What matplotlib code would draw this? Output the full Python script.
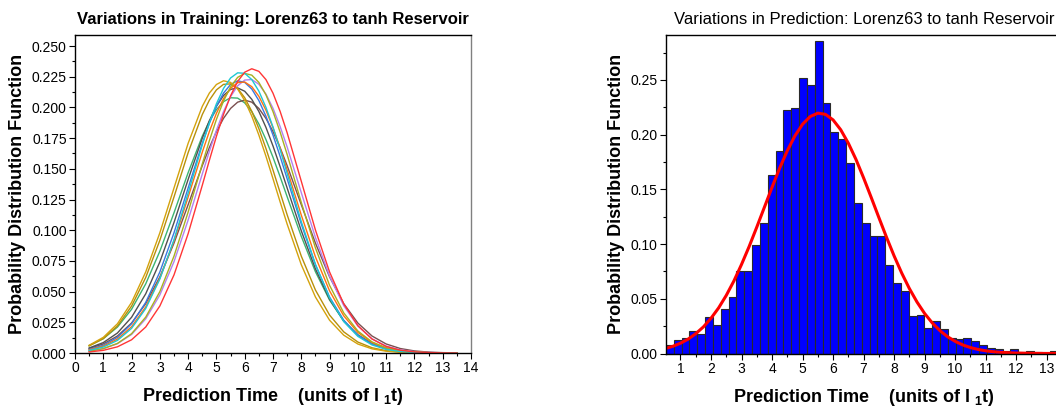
import numpy as np
import matplotlib
matplotlib.use("Agg")
import matplotlib.pyplot as plt
from matplotlib.ticker import MultipleLocator, FormatStrFormatter

plt.rcParams['font.family'] = ['Liberation Sans', 'DejaVu Sans']
plt.rcParams['mathtext.fontset'] = 'custom'
plt.rcParams['mathtext.rm'] = 'Liberation Sans'
plt.rcParams['mathtext.bf'] = 'Liberation Sans:bold'
plt.rcParams['mathtext.default'] = 'bf'

# training runs: pdf of prediction time (finer sampling around the peak)
train_t = [0.5, 1.0, 1.5, 2.0, 2.5, 3.0, 3.5, 4.0, 4.5,
           4.75, 5.0, 5.25, 5.5, 5.75, 6.0, 6.25, 6.5, 6.75, 7.0, 7.25, 7.5,
           8.0, 8.5, 9.0, 9.5, 10.0, 10.5, 11.0, 11.5, 12.0, 12.5, 13.0, 13.5]
train_green = [0.00602, 0.01166, 0.0211, 0.0356, 0.0563, 0.0829, 0.1142, 0.1469, 0.1766,
               0.1887, 0.1982, 0.2047, 0.2079, 0.2076, 0.2037, 0.1966, 0.1865, 0.1739,
               0.1594, 0.1437, 0.1273,
               0.0950, 0.0662, 0.0431, 0.0262, 0.01491, 0.00791, 0.00393, 0.00182,
               0.00079, 0.00032, 0.00012, 0.00004]
train_brown = [0.00365, 0.00735, 0.01384, 0.0244, 0.0402, 0.0620, 0.0895, 0.1208, 0.1526,
               0.1673, 0.1803, 0.1911, 0.1992, 0.2043, 0.2060, 0.2043, 0.1992, 0.1911,
               0.1803, 0.1673, 0.1526,
               0.1208, 0.0895, 0.0620, 0.0402, 0.0244, 0.01384, 0.00735, 0.00365,
               0.00170, 0.00074, 0.00030, 0.00011]
train_gray = [0.00411, 0.00847, 0.01628, 0.0291, 0.0482, 0.0742, 0.1063, 0.1414, 0.1749,
              0.1892, 0.2010, 0.2097, 0.2147, 0.2159, 0.2132, 0.2066, 0.1967, 0.1838,
              0.1686, 0.1519, 0.1344,
              0.0995, 0.0685, 0.0438, 0.0260, 0.01437, 0.00737, 0.00352, 0.00156,
              0.00064, 0.00025, 0.00009, 0.00003]
train_lavender = [0.00152, 0.00353, 0.00759, 0.01510, 0.0278, 0.0473, 0.0744, 0.1083, 0.1458,
                  0.1642, 0.1814, 0.1966, 0.2088, 0.2176, 0.2223, 0.2227, 0.2189, 0.2109,
                  0.1993, 0.1846, 0.1678,
                  0.1306, 0.0941, 0.0626, 0.0386, 0.02198, 0.01158, 0.00564, 0.00254,
                  0.00106, 0.00041, 0.00015, 0.00005]
train_blue = [0.00289, 0.00630, 0.01273, 0.0238, 0.0412, 0.0660, 0.0979, 0.1344, 0.1708,
              0.1870, 0.2009, 0.2117, 0.2187, 0.2217, 0.2204, 0.2150, 0.2056, 0.1929,
              0.1775, 0.1603, 0.1419,
              0.1050, 0.0719, 0.0456, 0.0267, 0.01453, 0.00730, 0.00340, 0.00146,
              0.00058, 0.00021, 0.00007, 0.00002]
train_goldenrod = [0.00579, 0.01172, 0.0220, 0.0382, 0.0615, 0.0918, 0.1271, 0.1632, 0.1942,
                   0.2059, 0.2143, 0.2188, 0.2192, 0.2155, 0.2079, 0.1968, 0.1828, 0.1666,
                   0.1490, 0.1308, 0.1126,
                   0.0789, 0.0513, 0.0309, 0.01723, 0.00891, 0.00428, 0.00191, 0.00079,
                   0.00030, 0.00010, 0.00003, 0.00001]
train_gold = [0.00630, 0.01273, 0.0238, 0.0412, 0.0660, 0.0979, 0.1344, 0.1708, 0.2009,
              0.2117, 0.2187, 0.2217, 0.2204, 0.2150, 0.2056, 0.1929, 0.1775, 0.1603,
              0.1419, 0.1232, 0.1050,
              0.0719, 0.0456, 0.0267, 0.01453, 0.00730, 0.00340, 0.00146, 0.00058,
              0.00021, 0.00007, 0.00002, 0.0]
train_orange = [0.00252, 0.00555, 0.01133, 0.0214, 0.0375, 0.0608, 0.0913, 0.1270, 0.1636,
                0.1804, 0.1952, 0.2071, 0.2156, 0.2202, 0.2207, 0.2169, 0.2091, 0.1978,
                0.1835, 0.1671, 0.1492,
                0.1123, 0.0783, 0.0506, 0.0303, 0.01675, 0.00859, 0.00408, 0.00180,
                0.00073, 0.00028, 0.00010, 0.00003]
train_olive = [0.00150, 0.00356, 0.00779, 0.01572, 0.0292, 0.0500, 0.0789, 0.1148, 0.1540,
               0.1729, 0.1903, 0.2052, 0.2168, 0.2245, 0.2277, 0.2263, 0.2204, 0.2103,
               0.1966, 0.1801, 0.1617,
               0.1226, 0.0856, 0.0551, 0.0327, 0.01791, 0.00903, 0.00419, 0.00180,
               0.00071, 0.00026, 0.00009, 0.00002]
train_cyan = [0.00208, 0.00481, 0.01024, 0.02007, 0.0362, 0.0603, 0.0923, 0.1303, 0.1695,
              0.1874, 0.2030, 0.2155, 0.2240, 0.2282, 0.2278, 0.2227, 0.2133, 0.2001,
              0.1840, 0.1657, 0.1462,
              0.1070, 0.0722, 0.0449, 0.0256, 0.01353, 0.00657, 0.00294, 0.00121,
              0.00046, 0.00016, 0.00005, 0.00001]
train_red = [0.00085, 0.00216, 0.00503, 0.01076, 0.02115, 0.0383, 0.0636, 0.0972, 0.1366,
             0.1569, 0.1765, 0.1943, 0.2095, 0.2212, 0.2287, 0.2315, 0.2294, 0.2227,
             0.2116, 0.1969, 0.1794,
             0.1399, 0.1002, 0.0660, 0.0400, 0.02226, 0.01139, 0.00536, 0.00232,
             0.00092, 0.00034, 0.00011, 0.00003]

train_runs = [train_green, train_brown, train_gray, train_lavender, train_blue,
              train_goldenrod, train_gold, train_orange, train_olive, train_cyan, train_red]
train_colors = ['#3cb371', '#7b4f4f', '#505050', '#b482f0', '#3a78e0',
                '#b8900a', '#d4a20c', '#ff7010', '#a8b020', '#1ec8d2', '#ff3535']

# prediction: histogram of prediction time (bins start at 0.525, width 0.2565)
pred_bin_start = 0.525
pred_bin_width = 0.2565
pred_pdf = [0.0080, 0.0120, 0.0139, 0.0206, 0.0176, 0.0331, 0.0260, 0.0407, 0.0514, 0.0755,
            0.0755, 0.0990, 0.1190, 0.1630, 0.1846, 0.2228, 0.2240, 0.2518, 0.2454, 0.2859,
            0.2289, 0.2027, 0.1963, 0.1740, 0.1374, 0.1191, 0.1072, 0.1072, 0.0810, 0.0640,
            0.0572, 0.0343, 0.0350, 0.0233, 0.0294, 0.0224, 0.0139, 0.0130, 0.0139, 0.0111,
            0.0080, 0.0050, 0.0041, 0.0023, 0.0041, 0.0012, 0.0023, 0.0010, 0.0007, 0.0020]

# normal fit to the prediction histogram
fit_t = [0.5, 0.75, 1.0, 1.25, 1.5, 1.75, 2.0, 2.25, 2.5, 2.75, 3.0, 3.25, 3.5, 3.75,
         4.0, 4.25, 4.5, 4.75, 5.0, 5.25, 5.5, 5.75, 6.0, 6.25, 6.5, 6.75, 7.0, 7.25,
         7.5, 7.75, 8.0, 8.25, 8.5, 8.75, 9.0, 9.25, 9.5, 9.75, 10.0, 10.25, 10.5, 10.75,
         11.0, 11.25, 11.5, 11.75, 12.0, 12.5, 13.0, 13.5, 14.0]
fit_pdf = [0.00453, 0.00658, 0.0094, 0.01314, 0.0181, 0.0243, 0.0322, 0.0417, 0.0531,
           0.0663, 0.0814, 0.0978, 0.1155, 0.1337, 0.1519, 0.1694, 0.1853, 0.1989,
           0.2095, 0.2165, 0.2196, 0.2185, 0.2134, 0.2044, 0.1921, 0.1773, 0.1604,
           0.1425, 0.1242, 0.1062, 0.0891, 0.0734, 0.0593, 0.0470, 0.0365, 0.0279,
           0.0209, 0.01534, 0.0111, 0.00782, 0.00543, 0.00370, 0.00248, 0.00162,
           0.00104, 0.00066, 0.00041, 0.00015, 0.00005, 0.00001, 0.0]

xlabel = r'Prediction Time    (units of l $_{1}$t)'
ylabel = 'Probability Distribution Function'

W, H = 1056, 411
fig = plt.figure(figsize=(W / 100, H / 100), dpi=100)


def style_axes(ax):
    ax.tick_params(which='both', direction='out', top=False, right=False, width=0.8)
    ax.tick_params(which='major', length=4, labelsize=10, pad=2)
    ax.tick_params(which='minor', length=2.5)
    for s in ax.spines.values():
        s.set_linewidth(1.0)
    ax.set_xlabel(xlabel, fontsize=13, fontweight='bold', labelpad=8)
    ax.set_ylabel(ylabel, fontsize=13, fontweight='bold', labelpad=4)


# left panel: training
ax1 = fig.add_axes([75 / W, 58 / H, 396 / W, 318 / H])
for run, c in zip(train_runs, train_colors):
    ax1.plot(train_t, run, color=c, lw=1.0)
ax1.set_xlim(0, 14)
ax1.set_ylim(0, 0.259)
ax1.xaxis.set_major_locator(MultipleLocator(1))
ax1.xaxis.set_minor_locator(MultipleLocator(0.5))
ax1.yaxis.set_major_locator(MultipleLocator(0.025))
ax1.yaxis.set_minor_locator(MultipleLocator(0.0125))
ax1.yaxis.set_major_formatter(FormatStrFormatter('%.3f'))
ax1.spines['right'].set_color('#808080')
ax1.spines['right'].set_linewidth(1.6)
style_axes(ax1)
ax1.set_title('Variations in Training: Lorenz63 to tanh Reservoir',
              fontsize=12, fontweight='bold', pad=8)

# right panel: prediction
ax2 = fig.add_axes([666 / W, 57.5 / H, 396 / W, 318.5 / H])
lefts = pred_bin_start + pred_bin_width * np.arange(len(pred_pdf))
ax2.bar(lefts, pred_pdf, width=pred_bin_width, align='edge', color='#0000ff',
        edgecolor='#2a2a2a', linewidth=0.8)
ax2.plot(fit_t, fit_pdf, color='#ff0000', lw=2.2)
ax2.set_xlim(0.525, 13.5)
ax2.set_ylim(0, 0.291)
ax2.xaxis.set_major_locator(MultipleLocator(1))
ax2.xaxis.set_minor_locator(MultipleLocator(0.5))
ax2.yaxis.set_major_locator(MultipleLocator(0.05))
ax2.yaxis.set_minor_locator(MultipleLocator(0.025))
ax2.yaxis.set_major_formatter(FormatStrFormatter('%.2f'))
style_axes(ax2)
ax2.set_title('Variations in Prediction: Lorenz63 to tanh Reservoir',
              fontsize=12, pad=8)

fig.savefig('out.png', dpi=100)
